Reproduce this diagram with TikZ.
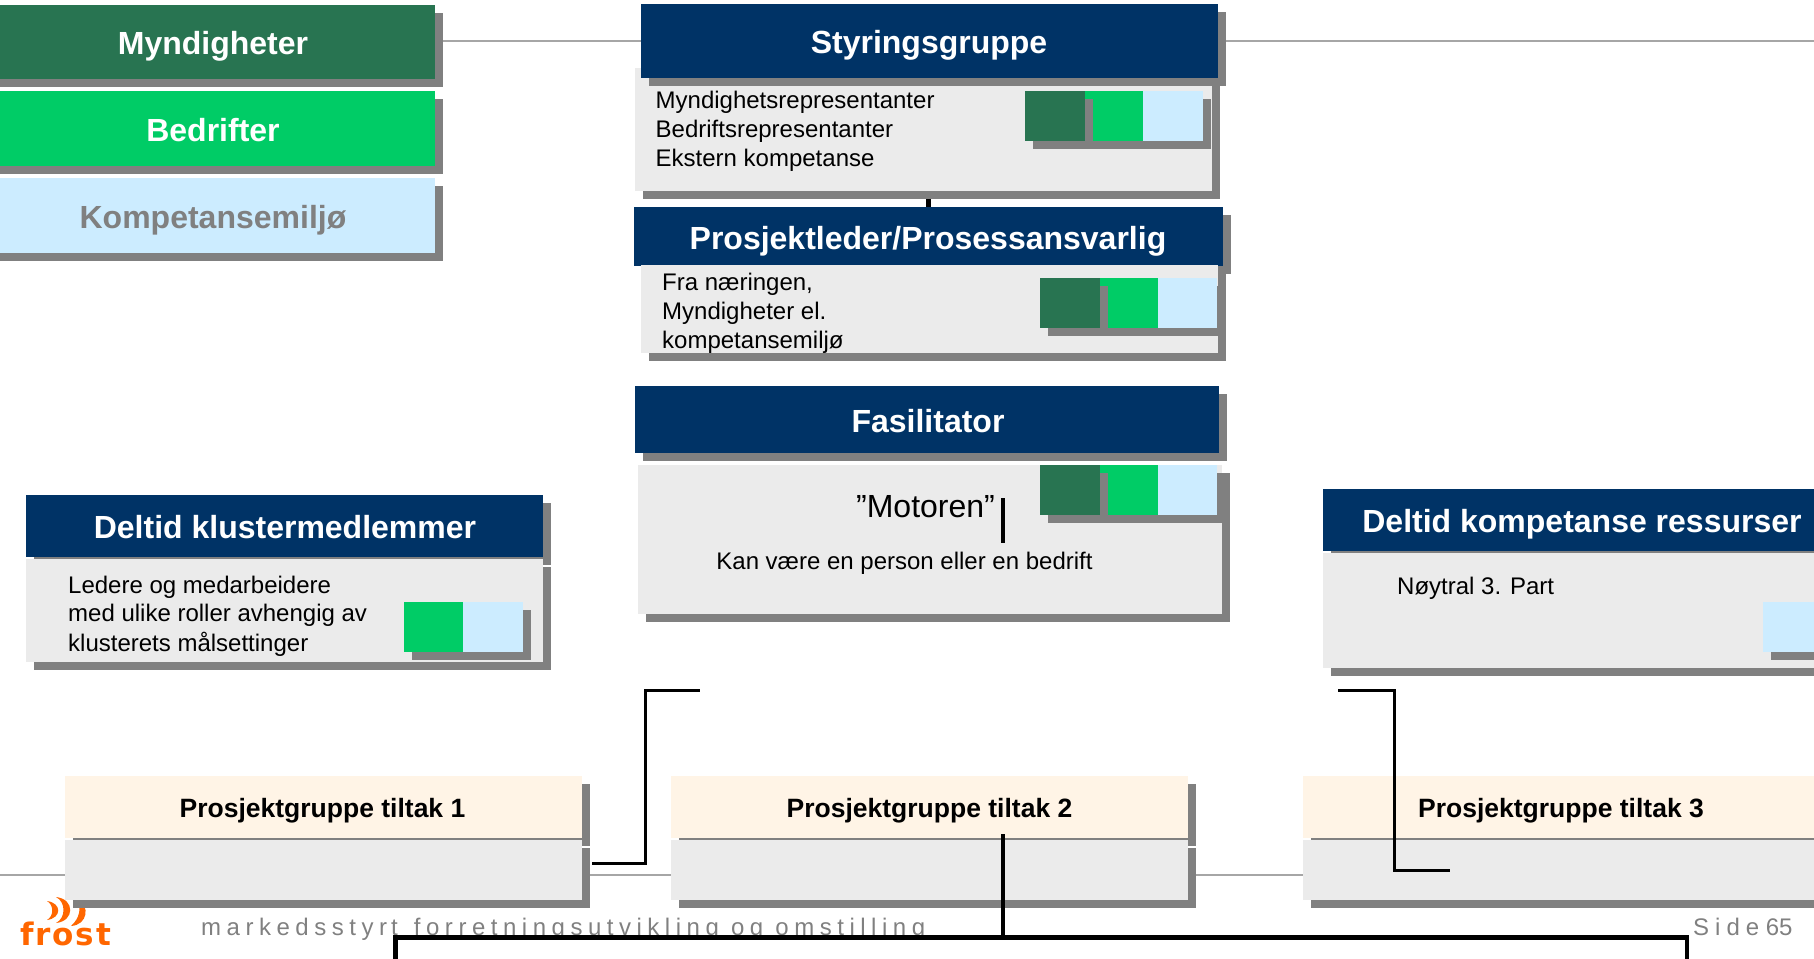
\documentclass[tikz,border=0pt]{standalone}
\usepackage{fontspec}
\setmainfont{Liberation Sans}
\newfontfamily\footfont{Liberation Sans}[LetterSpace=23]
\newfontfamily\sidefont{Liberation Sans}[LetterSpace=25]
\newfontfamily\logofont{DejaVu Sans}[LetterSpace=6]
\pgfdeclarelayer{bg}
\pgfsetlayers{bg,main}
\definecolor{navy}{HTML}{003366}
\definecolor{forest}{HTML}{287451}
\definecolor{brightgreen}{HTML}{00CC66}
\definecolor{skyblue}{HTML}{CCECFF}
\definecolor{panelgrey}{HTML}{EBEBEB}
\definecolor{shadowgrey}{HTML}{808080}
\definecolor{cream}{HTML}{FFF4E6}
\definecolor{rulegrey}{HTML}{A6A6A6}
\definecolor{logoorange}{HTML}{FF6600}
\tikzset{
  flat/.style={anchor=north west,inner sep=0pt,outer sep=0pt,draw=none},
  title/.style={anchor=base,inner sep=0pt,text=white,font=\fontsize{32}{36}\selectfont\bfseries},
  subtitle/.style={anchor=base,inner sep=0pt,text=black,font=\fontsize{26.5}{30}\selectfont\bfseries},
  bodytext/.style={anchor=base west,inner sep=0pt,text=black,font=\fontsize{24}{29}\selectfont},
  footertext/.style={anchor=base west,inner sep=0pt,text=shadowgrey},
  greyrule/.style={draw=rulegrey,line width=2.5pt},
  wire/.style={draw=black,line width=3pt,line join=miter},
  heavywire/.style={draw=black,line width=4.5pt,line join=miter},
}
% name, x1, y1, x2, y2, colour
\newcommand{\dbx}[6]{%
  \pgfmathsetmacro\wid{#4-#2}\pgfmathsetmacro\hei{#5-#3}%
  \node[flat,fill=shadowgrey,minimum width=\wid pt,minimum height=\hei pt] (#1s) at ({#2+8},{#3+8}) {};%
  \node[flat,fill=#6,minimum width=\wid pt,minimum height=\hei pt] (#1) at (#2,#3) {};%
}
\begin{document}
\begin{tikzpicture}[x=1pt,y=-1pt]
\useasboundingbox (0,0) rectangle (1814,958);
\clip (0,0) rectangle (1814,958);

% legend
\dbx{leg1}{-20}{5}{435}{79}{forest}
\dbx{leg2}{-20}{91}{435}{166}{brightgreen}
\dbx{leg3}{-20}{178}{435}{253}{skyblue}
\node[title] (leg1t) at (213,54.5) {Myndigheter};
\node[title] (leg2t) at (213,141.5) {Bedrifter};
\node[title,text=shadowgrey] (leg3t) at (213,228.5) {Kompetansemiljø};

% Styringsgruppe
\dbx{styrB}{635}{68}{1212}{191}{panelgrey}
\dbx{styrH}{641}{4}{1218}{78}{navy}
\node[title] (styrT) at (929,53.5) {Styringsgruppe};
\node[bodytext] (styrL1) at (655.5,108.5) {Myndighetsrepresentanter};
\node[bodytext] (styrL2) at (655.5,137.5) {Bedriftsrepresentanter};
\node[bodytext] (styrL3) at (655.5,166.5) {Ekstern kompetanse};
\dbx{styrS2}{1085}{91}{1143}{141}{brightgreen}
\dbx{styrS3}{1143}{91}{1203}{141}{skyblue}
\dbx{styrS1}{1025}{91}{1085}{141}{forest}

% Prosjektleder
\dbx{proH}{634}{207}{1223}{266}{navy}
\dbx{proB}{641}{265}{1218}{353}{panelgrey}
\node[title] (proT) at (928,249) {Prosjektleder/Prosessansvarlig};
\node[bodytext] (proL1) at (662,290) {Fra næringen,};
\node[bodytext] (proL2) at (662,319) {Myndigheter el.};
\node[bodytext] (proL3) at (662,348) {kompetansemiljø};
\dbx{proS2}{1100}{278}{1158}{328}{brightgreen}
\dbx{proS3}{1158}{278}{1217}{328}{skyblue}
\dbx{proS1}{1040}{278}{1100}{328}{forest}

% Fasilitator
\dbx{fasH}{635}{386}{1219}{453}{navy}
\dbx{fasB}{638}{465}{1222}{614}{panelgrey}
\node[title] (fasT) at (928,432) {Fasilitator};
\node[anchor=base,inner sep=0pt,font=\fontsize{32}{38}\selectfont] (fasM) at (925.5,517) {”Motoren”};
\node[bodytext,anchor=base] (fasK) at (904.5,569) {Kan være en person eller en bedrift};
\dbx{fasS2}{1100}{465}{1158}{515}{brightgreen}
\dbx{fasS3}{1158}{465}{1217}{515}{skyblue}
\dbx{fasS1}{1040}{465}{1100}{515}{forest}

% Deltid klustermedlemmer
\dbx{klH}{26}{495}{543}{557}{navy}
\dbx{klB}{26}{559}{543}{662}{panelgrey}
\node[title] (klT) at (285,538) {Deltid klustermedlemmer};
\node[bodytext] (klL1) at (68,593) {Ledere og medarbeidere};
\node[bodytext] (klL2) at (68,621.5) {med ulike roller avhengig av};
\node[bodytext] (klL3) at (68,651) {klusterets målsettinger};
\dbx{klS1}{404}{602}{463}{652}{brightgreen}
\dbx{klS2}{463}{602}{523}{652}{skyblue}

% Deltid kompetanse ressurser
\dbx{koH}{1323}{489}{1840}{551}{navy}
\dbx{koB}{1323}{553}{1840}{668}{panelgrey}
\node[title] (koT) at (1582,532) {Deltid kompetanse ressurser};
\node[bodytext] (koL) at (1397,594) {Nøytral 3. Part};
\dbx{koS}{1763}{602}{1823}{652}{skyblue}

% footer
\node[footertext,font=\fontsize{24}{26}\selectfont\footfont] (foot) at (201,935) {markedsstyr\kern4pt t\kern4pt\ forretningsutvikling og omstilling};
\node[footertext,font=\fontsize{24}{26}\selectfont] (side) at (1693,935) {{\sidefont Side} 65};
\node[anchor=base west,inner sep=0pt,text=logoorange,font=\fontsize{31}{32}\selectfont\logofont\bfseries] (logo) at (20,945.5) {frost};

% project groups
\dbx{g1H}{65}{776}{582}{838}{cream}
\dbx{g1B}{65}{840}{582}{900}{panelgrey}
\node[subtitle] (g1T) at (322.5,817) {Prosjektgruppe tiltak 1};
\dbx{g2H}{671}{776}{1188}{838}{cream}
\dbx{g2B}{671}{840}{1188}{900}{panelgrey}
\node[subtitle] (g2T) at (929.5,817) {Prosjektgruppe tiltak 2};
\dbx{g3H}{1303}{776}{1820}{838}{cream}
\dbx{g3B}{1303}{840}{1820}{900}{panelgrey}
\node[subtitle] (g3T) at (1561,817) {Prosjektgruppe tiltak 3};

% free ends
\coordinate (topR) at (1814,41);
\coordinate (botL) at (0,875);
\coordinate (botR) at (1814,875);
\coordinate (a1) at (592,863.5);
\coordinate (a2) at (645,690.5);
\coordinate (a3) at (700,690.5);
\coordinate (b1) at (1338,690.5);
\coordinate (b2) at (1394.5,870);
\coordinate (b3) at (1450,870);
\coordinate (c0) at (1003,834);
\coordinate (c1) at (395.5,937.5);
\coordinate (c2) at (1687,937.5);
\coordinate (cL) at (395.5,960);
\coordinate (cR) at (1687,960);
\coordinate (m1) at (1003,498);
\coordinate (m2) at (1003,543);

\begin{pgfonlayer}{bg}
  \draw[greyrule] (leg1s.east |- topR) -- (topR);
  \draw[greyrule] (botL) -- (botR);
  \draw[draw=black,line width=5pt] (proH.north) -- (proH.north |- styrB.south);
  \fill[logoorange] (47,901) .. controls (62,903) and (62,918) .. (47,920) .. controls (54,916) and (54,905) .. (47,901) -- cycle;
  \fill[logoorange] (56,897) .. controls (75,899) and (75,921) .. (56,923) .. controls (66,918) and (66,902) .. (56,897) -- cycle;
  \fill[logoorange] (78,900) .. controls (90,905) and (88,925) .. (71,926) .. controls (80,918) and (81,908) .. (78,900) -- cycle;
\end{pgfonlayer}

\draw[wire] (a1) -| (a2) -- (a3);
\draw[wire] (b1) -| (b2) -- (b3);
\draw[heavywire] (c0) -- (c0 |- c1);
\draw[heavywire] (cL) |- (c1) -- (c2) -- (cR);
\draw[draw=black,line width=3.5pt] (m1) -- (m2);
\end{tikzpicture}
\end{document}
